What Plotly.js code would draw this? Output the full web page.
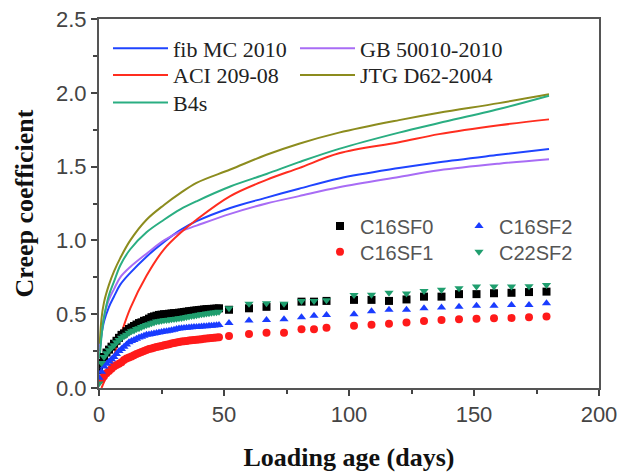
<!DOCTYPE html>
<html><head><meta charset="utf-8">
<script src="https://cdn.plot.ly/plotly-3.0.1.min.js"></script>
<style>html,body{margin:0;padding:0;background:#fff}</style>
</head><body><div id="chart" style="width:624px;height:475px"></div>
<script>
// ---- model curves (time in days) ----
const modelT = [0.3, 1, 2, 4, 6, 8.5, 12.5, 19, 26, 32.5, 39, 52.5, 67, 80, 96, 120, 136, 160, 180];
const fibMC2010 = [0.25, 0.36, 0.45, 0.55, 0.62, 0.70, 0.78, 0.89, 0.99, 1.07, 1.13, 1.22, 1.29, 1.35, 1.42, 1.49, 1.53, 1.58, 1.62];
const gb50010   = [0.25, 0.38, 0.48, 0.60, 0.67, 0.75, 0.82, 0.91, 1.00, 1.06, 1.10, 1.18, 1.25, 1.30, 1.36, 1.43, 1.475, 1.52, 1.55];
const aciT = [1, 2, 4, 6, 8.5, 12.5, 19, 26, 32.5, 39, 52.5, 67, 80, 96, 120, 136, 160, 180];
const aci209    = [0.0, 0.04, 0.12, 0.22, 0.35, 0.54, 0.76, 0.94, 1.05, 1.14, 1.30, 1.41, 1.49, 1.59, 1.665, 1.72, 1.78, 1.82];
const jtgD62    = [0.30, 0.47, 0.58, 0.70, 0.79, 0.88, 1.00, 1.14, 1.24, 1.32, 1.39, 1.48, 1.58, 1.655, 1.73, 1.815, 1.865, 1.93, 1.99];
const b4s       = [0.20, 0.35, 0.48, 0.63, 0.72, 0.83, 0.94, 1.055, 1.14, 1.21, 1.265, 1.365, 1.45, 1.53, 1.62, 1.73, 1.795, 1.89, 1.98];

// ---- experimental data ----
const expT = [0,1,2,3,4,5,6,7,8,9,10,11,12,13,14,15,16,17,18,19,20,21,22,23,24,25,26,27,28,29,30,
  31,32,33,34,35,36,37,38,39,40,41,42,43,44,45,46,47,48,
  52,60,67,74,81,86,91,102,109,116,123,130,137,144,151,158,165,172,179];
const c16sf0 = [0.12,
  0.17,0.21,0.24,0.26,0.28,0.30,0.32,0.34,0.36,0.37,
  0.385,0.40,0.41,0.42,0.43,0.44,0.445,0.455,0.46,0.47,
  0.48,0.485,0.49,0.495,0.497,0.50,0.50,0.503,0.505,0.507,
  0.508,0.51,0.512,0.515,0.517,0.52,0.522,0.524,0.526,0.528,
  0.53,0.532,0.534,0.535,0.536,0.537,0.538,0.54,
  0.53,0.54,0.55,0.556,0.585,0.585,0.59,0.597,0.597,0.59,0.60,0.619,0.619,0.636,0.636,0.642,0.645,0.65,0.653];
const c22sf2 = [0.03,
  0.17,0.21,0.235,0.255,0.275,0.29,0.31,0.325,0.34,0.35,
  0.36,0.375,0.385,0.39,0.40,0.405,0.413,0.42,0.426,0.432,
  0.438,0.444,0.45,0.453,0.456,0.459,0.461,0.463,0.465,0.467,
  0.47,0.472,0.475,0.478,0.481,0.484,0.487,0.49,0.493,0.496,
  0.499,0.502,0.505,0.507,0.509,0.512,0.514,0.517,
  0.54,0.57,0.574,0.57,0.59,0.59,0.595,0.63,0.632,0.645,0.64,0.658,0.665,0.676,0.687,0.687,0.687,0.69,0.698];
const c16sf2 = [0.07,
  0.11,0.145,0.165,0.18,0.195,0.21,0.23,0.25,0.265,0.28,
  0.295,0.31,0.318,0.326,0.334,0.342,0.348,0.354,0.36,0.363,
  0.366,0.37,0.373,0.376,0.379,0.382,0.385,0.388,0.391,0.395,
  0.399,0.403,0.405,0.407,0.408,0.41,0.411,0.413,0.414,0.415,
  0.417,0.418,0.419,0.421,0.422,0.424,0.425,0.427,
  0.44,0.457,0.461,0.466,0.48,0.49,0.495,0.50,0.52,0.53,0.53,0.54,0.545,0.55,0.558,0.558,0.563,0.563,0.574];
const c16sf1 = [0.05,
  0.06,0.08,0.10,0.115,0.13,0.145,0.155,0.165,0.175,0.19,
  0.20,0.207,0.214,0.222,0.23,0.237,0.244,0.25,0.258,0.264,
  0.268,0.273,0.277,0.281,0.285,0.289,0.293,0.297,0.301,0.305,
  0.309,0.312,0.315,0.317,0.319,0.321,0.323,0.325,0.327,0.329,
  0.331,0.333,0.335,0.337,0.339,0.341,0.342,0.344,
  0.353,0.366,0.375,0.375,0.398,0.398,0.409,0.422,0.429,0.436,0.443,0.454,0.461,0.466,0.47,0.472,0.475,0.48,0.484];

const serif = 'Liberation Serif, Times New Roman, serif';
const sans = 'Liberation Sans, Arial, sans-serif';

// one legend box per entry, placed as in the reference (paper coords)
const legendSpecs = {
  legend2:  {x: 0.018, y: 0.920, font: serif, size: 22, color: '#222', iw: 55},
  legend3:  {x: 0.392, y: 0.920, font: serif, size: 22, color: '#222', iw: 55},
  legend4:  {x: 0.018, y: 0.848, font: serif, size: 22, color: '#222', iw: 55},
  legend5:  {x: 0.392, y: 0.848, font: serif, size: 22, color: '#222', iw: 55},
  legend6:  {x: 0.018, y: 0.773, font: serif, size: 22, color: '#222', iw: 55},
  legend7:  {x: 0.442, y: 0.439, font: sans, size: 20, color: '#555', iw: 30},
  legend8:  {x: 0.720, y: 0.439, font: sans, size: 20, color: '#555', iw: 30},
  legend9:  {x: 0.442, y: 0.369, font: sans, size: 20, color: '#555', iw: 30},
  legend10: {x: 0.720, y: 0.369, font: sans, size: 20, color: '#555', iw: 30}
};

function modelLine(name, x, y, color, lg) {
  return {x: x, y: y, name: name, type: 'scatter', mode: 'lines', legend: lg,
    line: {color: color, width: 2, shape: 'spline', smoothing: 1}};
}
function expPts(name, y, color, symbol, lg) {
  return {x: expT, y: y, name: name, type: 'scatter', mode: 'markers', legend: lg,
    marker: {color: color, symbol: symbol, size: 8}};
}

const traces = [
  modelLine('fib MC 2010', modelT, fibMC2010, '#1f44ff', 'legend2'),
  modelLine('GB 50010-2010', modelT, gb50010, '#a86cf5', 'legend3'),
  modelLine('ACI 209-08', aciT, aci209, '#ff2d1f', 'legend4'),
  modelLine('JTG D62-2004', modelT, jtgD62, '#8c8c1e', 'legend5'),
  modelLine('B4s', modelT, b4s, '#2aae82', 'legend6'),
  expPts('C16SF0', c16sf0, '#000000', 'square', 'legend7'),
  expPts('C16SF1', c16sf1, '#ff1a1a', 'circle', 'legend9'),
  expPts('C16SF2', c16sf2, '#1a3cff', 'triangle-up', 'legend8'),
  expPts('C22SF2', c22sf2, '#1f9e6e', 'triangle-down', 'legend10')
];

const axisCommon = {
  ticks: 'outside', ticklen: 6, tickwidth: 2, tickcolor: '#444',
  showline: true, linecolor: '#555', linewidth: 2, mirror: true,
  showgrid: false, zeroline: false,
  tickfont: {family: sans, size: 22, color: '#444'}
};

const layout = {
  width: 624, height: 475,
  showlegend: true,
  margin: {l: 99, r: 25, t: 19, b: 87},
  paper_bgcolor: '#fff', plot_bgcolor: '#fff',
  xaxis: Object.assign({}, axisCommon, {
    range: [0, 200], tick0: 0, dtick: 50,
    minor: {dtick: 25, ticks: 'outside', ticklen: 4, tickwidth: 2, tickcolor: '#444'},
    title: {text: 'Loading age (days)', standoff: 21,
      font: {family: serif, size: 26, color: '#111', weight: 'bold'}}
  }),
  yaxis: Object.assign({}, axisCommon, {
    range: [0, 2.5], tick0: 0, dtick: 0.5, tickformat: '.1f',
    minor: {dtick: 0.25, ticks: 'outside', ticklen: 4, tickwidth: 2, tickcolor: '#444'},
    title: {text: 'Creep coefficient', standoff: 15,
      font: {family: serif, size: 26, color: '#111', weight: 'bold'}}
  })
};
Object.keys(legendSpecs).forEach(function (k) {
  const s = legendSpecs[k];
  layout[k] = {x: s.x, y: s.y, xanchor: 'left', yanchor: 'middle', orientation: 'v',
    bgcolor: 'rgba(0,0,0,0)', borderwidth: 0, itemwidth: s.iw,
    font: {family: s.font, size: s.size, color: s.color}};
});

Plotly.newPlot('chart', traces, layout, {staticPlot: true, displayModeBar: false});
</script></body></html>
